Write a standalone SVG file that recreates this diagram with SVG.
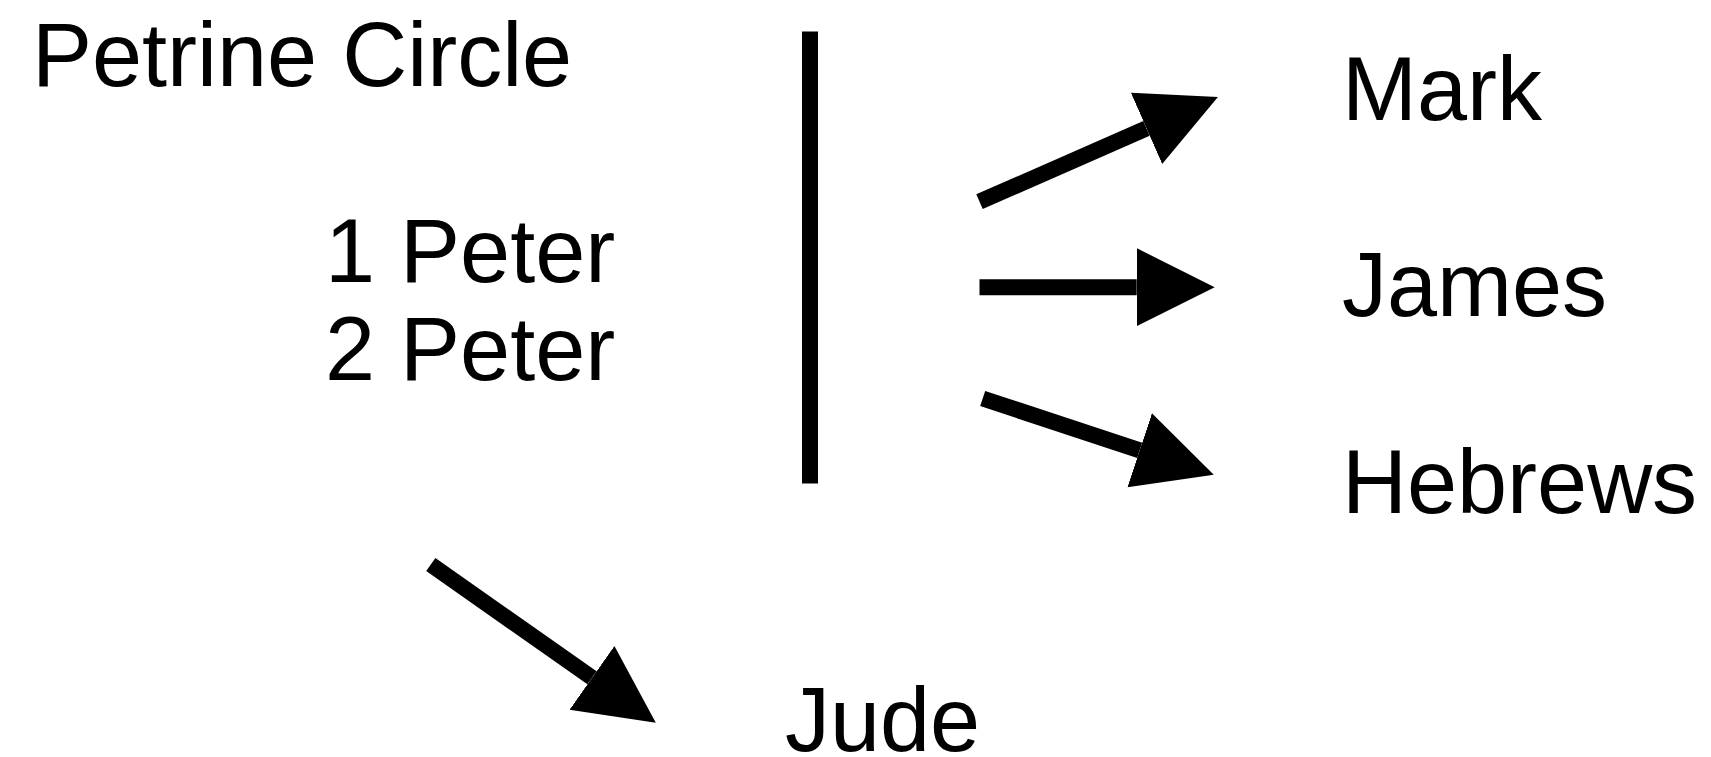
<svg xmlns="http://www.w3.org/2000/svg" width="1711" height="757" viewBox="0 0 1711 757">
<style>
text{font-family:"Liberation Sans",Arial,Helvetica,sans-serif;font-size:90px;fill:#000}
.c{stroke:#000;stroke-width:16;fill:none}
</style>
<defs>
<marker id="ah" markerUnits="userSpaceOnUse" markerWidth="80" markerHeight="80" refX="0" refY="40" orient="auto">
<path d="M0,1 L78,40 L0,79 Z" fill="#000"/>
</marker>
</defs>
<rect width="1711" height="757" fill="#fff"/>
<g id="petrine"><text x="32" y="86">Petrine Circle</text></g>
<g id="peter"><text x="325" y="282">1 Peter</text><text x="325" y="380">2 Peter</text></g>
<g id="mark"><text x="1342" y="120">Mark</text></g>
<g id="james"><text x="1342" y="316">James</text></g>
<g id="hebrews"><text x="1342" y="513">Hebrews</text></g>
<g id="jude"><text x="785" y="751">Jude</text></g>
<g id="connectors">
<line class="c" x1="810" y1="31.5" x2="810" y2="483.5"/>
<line class="c" x1="979.5" y1="201.7" x2="1146.5" y2="128.4" marker-end="url(#ah)"/>
<line class="c" x1="979.5" y1="287.2" x2="1136.7" y2="287.2" marker-end="url(#ah)"/>
<line class="c" x1="982.7" y1="398.5" x2="1139.7" y2="450.3" marker-end="url(#ah)"/>
<line class="c" x1="430.8" y1="564.5" x2="592" y2="677.8" marker-end="url(#ah)"/>
</g>
</svg>
